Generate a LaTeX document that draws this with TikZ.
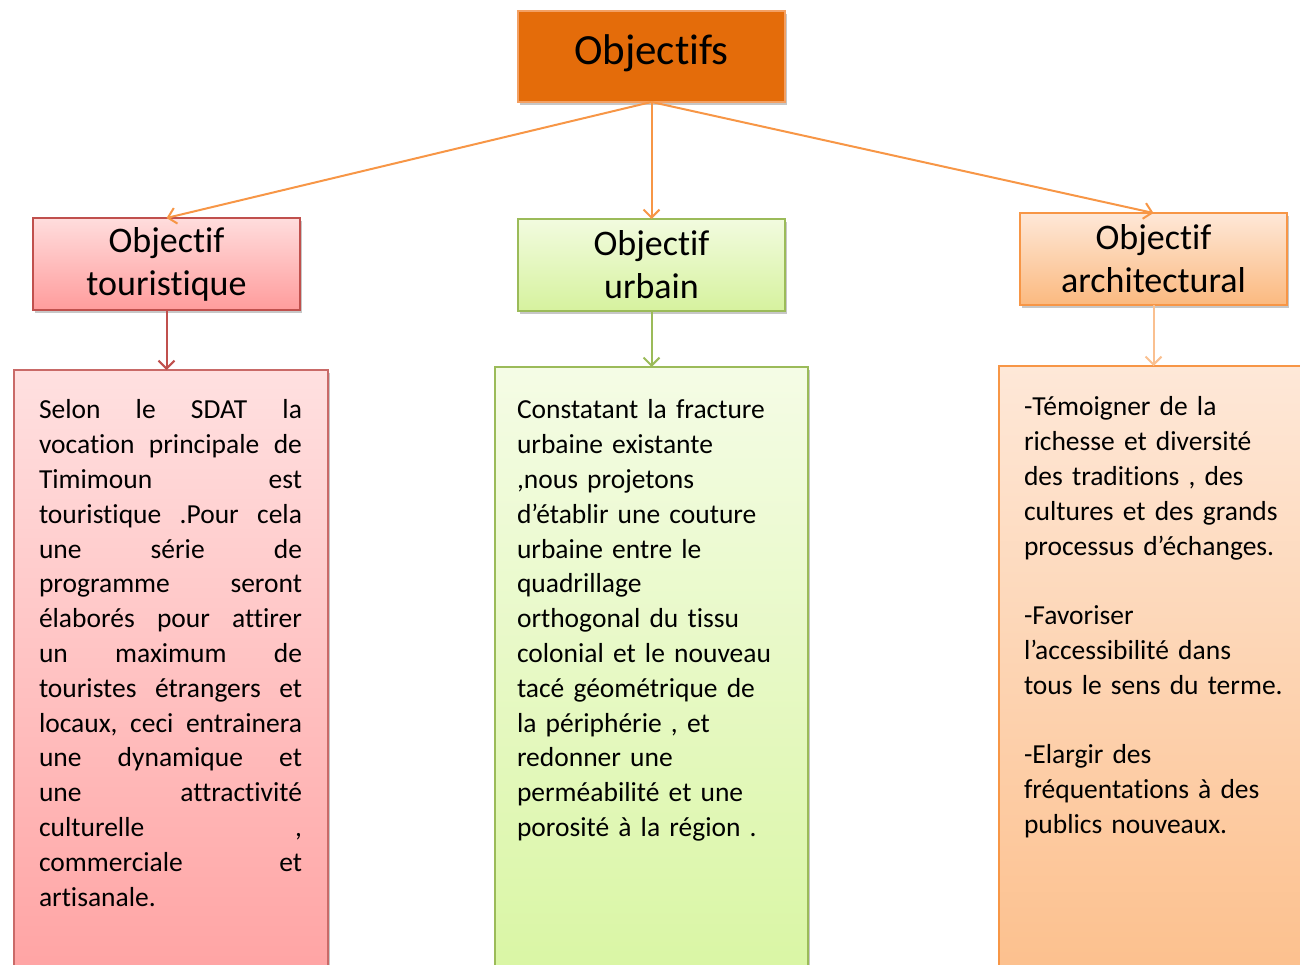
\documentclass[tikz,border=0pt]{standalone}
\usepackage{fontspec}
\setmainfont{Carlito}[Ligatures={NoCommon}]
\usetikzlibrary{arrows.meta,shadows}
\definecolor{topfill}{HTML}{E46C0A}
\definecolor{topdraw}{HTML}{F3A063}
\definecolor{redline}{HTML}{C0504D}
\definecolor{greenline}{HTML}{9BBB59}
\definecolor{orangeline}{HTML}{F79646}
\definecolor{lightorangeline}{HTML}{FAC090}
\definecolor{redtop}{HTML}{FFDDDD}
\definecolor{redbot}{HTML}{FF9C9C}
\definecolor{greentop}{HTML}{F2FBDF}
\definecolor{greenbot}{HTML}{D6F29E}
\definecolor{orangetop}{HTML}{FEE8D8}
\definecolor{orangebot}{HTML}{FBB97F}
\definecolor{redbodybot}{HTML}{FF9A9A}
\definecolor{greenbodybot}{HTML}{D5F59A}
\definecolor{orangebodybot}{HTML}{FCBA82}
\newcommand\jline[1]{\leavevmode\hbox to 263pt{#1}}
\tikzset{
  boxbase/.style={rectangle, anchor=north west, inner sep=0pt, outer sep=0pt, line width=1.8pt,
    drop shadow={shadow xshift=2pt, shadow yshift=-2.5pt, opacity=0.22, fill=black}},
  titlebox/.style={boxbase, minimum width=267pt, minimum height=92pt, align=center,
    font=\fontsize{36pt}{43pt}\selectfont},
  bodybox/.style={boxbase, minimum height=700pt},
  bodytext/.style={anchor=north west, inner sep=0pt, outer sep=0pt, align=left, text width=300pt,
    font=\fontsize{27.5pt}{34.8pt}\selectfont},
  conn/.style={line width=2pt, -{Straight Barb[length=8pt,width=16pt,line width=2pt]}}
}
\begin{document}
\begin{tikzpicture}[x=1pt,y=-1pt]
\useasboundingbox (0,0) rectangle (1300,964);
\clip (0,0) rectangle (1300,964);

% top box
\node[boxbase, fill=topfill, draw=topdraw, minimum width=267pt, minimum height=91pt] (obj) at (518,11) {};
\node[font=\fontsize{43pt}{50pt}\selectfont, inner sep=0pt] (objtext) at ([yshift=3pt]obj.center) {Objectifs};

% title boxes
\node[titlebox, draw=redline, top color=redtop, bottom color=redbot] (tour) at (33,218)
  {Objectif\\touristique};
\node[titlebox, draw=greenline, top color=greentop, bottom color=greenbot] (urb) at (518,219)
  {Objectif\\urbain};
\node[titlebox, draw=orangeline, top color=orangetop, bottom color=orangebot] (arch) at (1020,213)
  {Objectif\\architectural};

% body boxes
\node[bodybox, minimum width=314pt, draw=redline!85, top color=redtop!90!white, bottom color=redbodybot] (tourbody) at (14,370) {};
\node[bodybox, minimum width=313pt, draw=greenline, top color=greentop!80!white, bottom color=greenbodybot] (urbbody) at (495,367) {};
\node[bodybox, minimum width=400pt, draw=orangeline, top color=orangetop, bottom color=orangebodybot] (archbody) at (999,366) {};

% connectors
\draw[conn, orangeline] (obj.south) -- (tour.north);
\draw[conn, orangeline] (obj.south) -- (urb.north);
\draw[conn, orangeline] (obj.south) -- (arch.north);
\draw[conn, redline] (tour.south) -- (tour.south |- tourbody.north);
\draw[conn, greenline] (urb.south) -- (urb.south |- urbbody.north);
\draw[conn, lightorangeline] (arch.south) -- (arch.south |- archbody.north);

% body texts
\node[bodytext] (tourtext) at (39,394.6) {\strut
\jline{Selon\hfill le\hfill SDAT\hfill la}\\
\jline{vocation\hfill principale\hfill de}\\
\jline{Timimoun\hfill est}\\
\jline{touristique\hfill .Pour\hfill cela}\\
\jline{une\hfill série\hfill de}\\
\jline{programme\hfill seront}\\
\jline{élaborés\hfill pour\hfill attirer}\\
\jline{un\hfill maximum\hfill de}\\
\jline{touristes\hfill étrangers\hfill et}\\
\jline{locaux,\hfill ceci\hfill entrainera}\\
\jline{une\hfill dynamique\hfill et}\\
\jline{une\hfill attractivité}\\
\jline{culturelle\hfill ,}\\
\jline{commerciale\hfill et}\\
artisanale.};

\node[bodytext] (urbtext) at (517,394.6) {\strut Constatant la fracture\\
urbaine existante\\
,nous projetons\\
d’établir une couture\\
urbaine entre le\\
quadrillage\\
orthogonal du tissu\\
colonial et le nouveau\\
tacé géométrique de\\
la périphérie , et\\
redonner une\\
perméabilité et une\\
porosité à la région .};

\node[bodytext] (archtext) at (1024,391.6) {\strut -Témoigner de la\\
richesse et diversité\\
des traditions , des\\
cultures et des grands\\
processus d’échanges.\\[34.8pt]
-Favoriser\\
l’accessibilité dans\\
tous le sens du terme.\\[34.8pt]
-Elargir des\\
fréquentations à des\\
publics nouveaux.};
\end{tikzpicture}
\end{document}
